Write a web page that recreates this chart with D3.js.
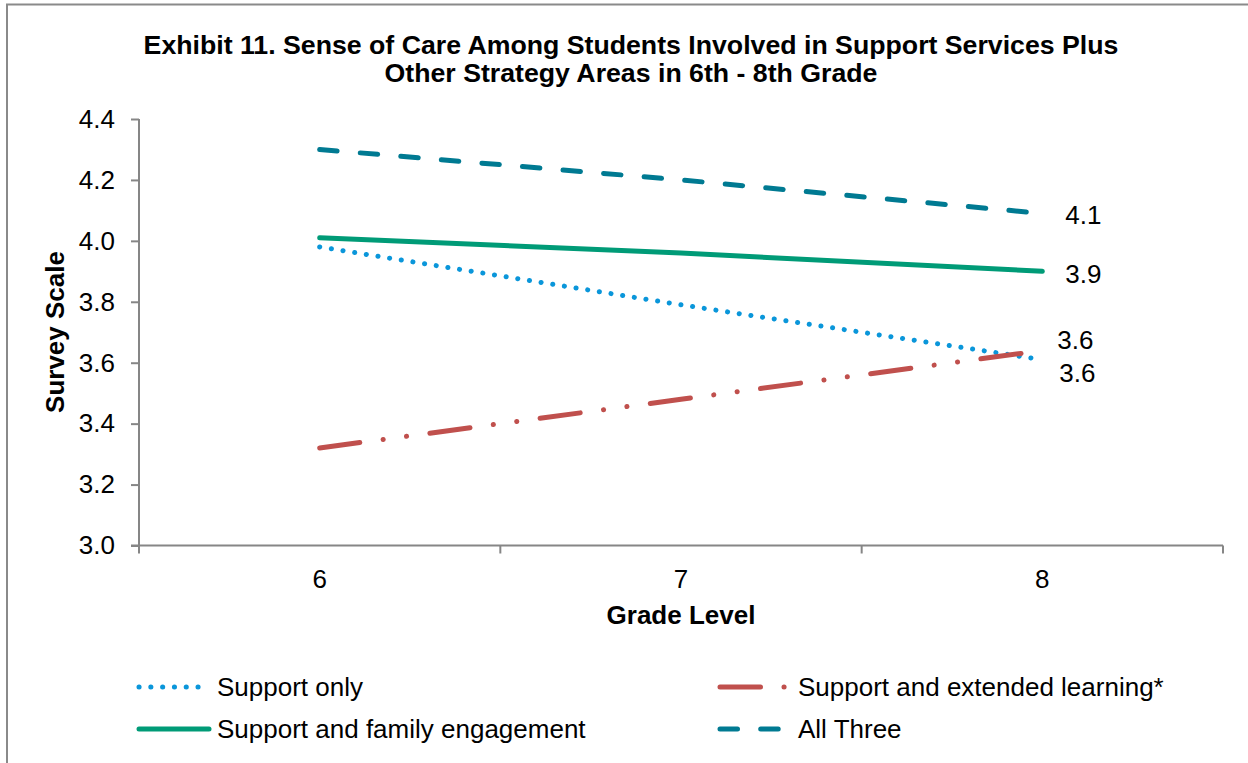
<!DOCTYPE html>
<html>
<head>
<meta charset="utf-8">
<script src="https://cdn.jsdelivr.net/npm/d3@7"></script>
<style>
  html, body { margin: 0; padding: 0; background: #ffffff; }
  svg { display: block; font-family: "Liberation Sans", Arial, sans-serif; }
</style>
</head>
<body>
<svg id="chart" width="1248" height="763"></svg>
<script>
// ---- data ----
const grades = ["6", "7", "8"];
const seriesNames = [
  "Support only",
  "Support and extended learning*",
  "Support and family engagement",
  "All Three"
];
const supportOnly = [3.98, 3.79, 3.61];
const supportExtended = [3.32, 3.48, 3.64];
const supportFamily = [4.01, 3.96, 3.90];
const allThree = [4.30, 4.20, 4.09];
const yTicks = [3.0, 3.2, 3.4, 3.6, 3.8, 4.0, 4.2, 4.4];
const titleLines = [
  "Exhibit 11. Sense of Care Among Students Involved in Support Services Plus",
  "Other Strategy Areas in 6th - 8th Grade"
];

// ---- styling ----
const styles = {
  "Support only":                   { color: "#0A96DA", dash: "0.1 11.7" },
  "Support and extended learning*": { color: "#C0504D", dash: "40.5 23.5 0.1 23.5 0.1 23.5" },
  "Support and family engagement":  { color: "#009B77", dash: null },
  "All Three":                      { color: "#007A92", dash: "17.5 23.2" }
};
// end-label nudges (px) relative to the grade-8 point
const labelNudge = {
  "Support only":                   [17, 13],
  "Support and extended learning*": [15, -11],
  "Support and family engagement":  [23, 2],
  "All Three":                      [23, 1]
};
const lineWidth = 5;
const axisColor = "#868686";
const fontSize = 26;

const series = [
  { name: seriesNames[0], values: supportOnly },
  { name: seriesNames[1], values: supportExtended },
  { name: seriesNames[2], values: supportFamily },
  { name: seriesNames[3], values: allThree }
];

const svg = d3.select("#chart");

// outer frame (top and left edges visible)
svg.append("path")
  .attr("d", "M7,763 L7,4.5 L1248,4.5")
  .attr("fill", "none")
  .attr("stroke", "#8a8a8a")
  .attr("stroke-width", 2);

const plot = { left: 139, right: 1223, top: 119, bottom: 545.5 };

const x = d3.scaleBand().domain(grades).range([plot.left, plot.right]).padding(0);
const y = d3.scaleLinear().domain([3.0, 4.4]).range([plot.bottom, plot.top]);

// title
svg.append("g")
  .selectAll("text")
  .data(titleLines)
  .join("text")
  .attr("x", 631)
  .attr("y", (d, i) => 54 + i * 28)
  .attr("text-anchor", "middle")
  .attr("font-weight", "bold")
  .attr("font-size", 26.7)
  .attr("fill", "#000")
  .text(d => d);

// y axis
const yAxis = svg.append("g")
  .attr("transform", `translate(${plot.left},0)`)
  .call(d3.axisLeft(y).tickValues(yTicks).tickFormat(d3.format(".1f")).tickSize(8).tickPadding(16));
yAxis.select(".domain").attr("stroke", axisColor).attr("stroke-width", 2).attr("d", `M0,${plot.bottom}V${plot.top}`);
yAxis.selectAll(".tick line").attr("stroke", axisColor).attr("stroke-width", 2);
yAxis.selectAll(".tick text")
  .attr("font-size", fontSize)
  .attr("font-family", "Liberation Sans, Arial, sans-serif")
  .attr("fill", "#000");

// x axis: ticks at category boundaries, labels at category centers
const xg = svg.append("g").attr("transform", `translate(0,${plot.bottom})`);
xg.append("line")
  .attr("x1", plot.left - 8).attr("x2", plot.right)
  .attr("stroke", axisColor).attr("stroke-width", 2);
const boundaries = grades.map(g => x(g)).concat([x(grades[grades.length - 1]) + x.bandwidth()]);
xg.selectAll("line.tick")
  .data(boundaries)
  .join("line")
  .attr("class", "tick")
  .attr("x1", d => d).attr("x2", d => d)
  .attr("y1", 0).attr("y2", 8)
  .attr("stroke", axisColor).attr("stroke-width", 2);
xg.selectAll("text")
  .data(grades)
  .join("text")
  .attr("x", d => x(d) + x.bandwidth() / 2)
  .attr("y", 42)
  .attr("text-anchor", "middle")
  .attr("font-size", fontSize)
  .attr("fill", "#000")
  .text(d => d);

// axis titles
svg.append("text")
  .attr("x", x("7") + x.bandwidth() / 2)
  .attr("y", 624)
  .attr("text-anchor", "middle")
  .attr("font-weight", "bold")
  .attr("font-size", fontSize)
  .text("Grade Level");
svg.append("text")
  .attr("transform", "translate(64,332) rotate(-90)")
  .attr("text-anchor", "middle")
  .attr("font-weight", "bold")
  .attr("font-size", fontSize)
  .text("Survey Scale");

// series lines
const line = d3.line()
  .x((d, i) => x(grades[i]) + x.bandwidth() / 2)
  .y(d => y(d));

svg.append("g")
  .selectAll("path")
  .data(series)
  .join("path")
  .attr("d", d => line(d.values))
  .attr("fill", "none")
  .attr("stroke", d => styles[d.name].color)
  .attr("stroke-width", lineWidth)
  .attr("stroke-linecap", "round")
  .attr("stroke-dasharray", d => styles[d.name].dash);

// end labels (grade 8)
const last = grades.length - 1;
svg.append("g")
  .selectAll("text")
  .data(series)
  .join("text")
  .attr("x", d => x(grades[last]) + x.bandwidth() / 2 + labelNudge[d.name][0])
  .attr("y", d => y(d.values[last]) + labelNudge[d.name][1])
  .attr("dy", "0.36em")
  .attr("font-size", fontSize)
  .attr("fill", "#000")
  .text(d => d3.format(".1f")(d.values[last]));

// legend
const legendPos = [
  { x: 139, y: 687 },
  { x: 720, y: 687 },
  { x: 139, y: 729 },
  { x: 720, y: 729 }
];
const legend = svg.append("g")
  .selectAll("g")
  .data(series)
  .join("g")
  .attr("transform", (d, i) => `translate(${legendPos[i].x},${legendPos[i].y})`);
legend.append("line")
  .attr("x1", 0).attr("x2", 70)
  .attr("stroke", d => styles[d.name].color)
  .attr("stroke-width", lineWidth)
  .attr("stroke-linecap", "round")
  .attr("stroke-dasharray", d => styles[d.name].dash);
legend.append("text")
  .attr("x", 78)
  .attr("dy", "0.36em")
  .attr("font-size", fontSize)
  .attr("fill", "#000")
  .text(d => d.name);
</script>
</body>
</html>
